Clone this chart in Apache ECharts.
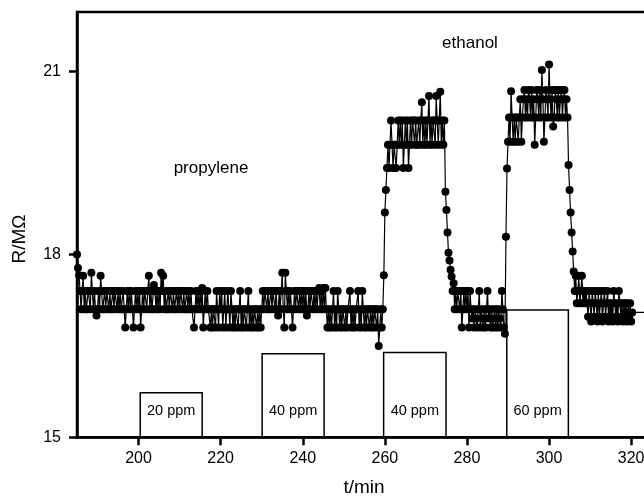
<!DOCTYPE html>
<html>
<head>
<meta charset="utf-8">
<script src="https://cdn.jsdelivr.net/npm/echarts@6/dist/echarts.min.js"></script>
<style>html,body{margin:0;padding:0;background:#fff;}#chart{width:644px;height:500px;}</style>
</head>
<body>
<div id="chart"></div>
<script>
// ---- data ----
const sampleStart = 185;      // t/min of first sample
const sampleStep = 0.25;      // min between samples
const resistance = [
 18.0,17.78,17.66,17.4,17.1,17.4,17.65,17.1,17.4,17.1,17.1,17.4,17.4,17.1,17.7,17.4,17.1,17.4,17.1,17.0,
 17.1,17.4,17.1,17.65,17.4,17.1,17.1,17.4,17.1,17.4,17.4,17.1,17.4,17.1,17.1,17.4,17.1,17.4,17.4,17.1,
 17.4,17.1,17.4,17.1,17.1,17.4,17.1,16.8,17.1,17.4,17.1,17.4,17.1,17.4,17.1,16.8,17.1,17.4,17.1,17.4,
 17.1,17.4,16.8,17.1,17.4,17.1,17.4,17.4,17.1,17.4,17.65,17.1,17.4,17.1,17.1,17.5,17.4,17.1,17.4,17.1,
 17.4,17.1,17.7,17.4,17.65,17.1,17.4,17.1,17.1,17.4,17.1,17.4,17.4,17.1,17.4,17.1,17.1,17.4,17.1,17.4,
 17.1,17.4,17.4,17.1,17.4,17.1,17.1,17.4,17.1,17.4,17.1,17.4,17.1,17.1,16.8,17.1,17.4,17.1,17.4,17.1,
 17.4,17.1,17.45,16.8,17.1,17.4,17.1,17.4,17.1,17.1,16.8,17.1,16.8,17.1,17.1,16.8,17.4,17.1,16.8,17.4,
 17.1,17.4,16.8,17.1,17.4,16.8,17.1,17.4,17.1,16.8,17.4,17.1,16.8,17.1,16.8,17.1,17.1,16.8,17.1,17.4,
 16.8,17.1,16.8,17.1,17.1,16.8,17.1,17.4,16.8,17.1,16.8,17.1,16.8,17.1,17.1,16.8,17.1,16.8,17.1,16.8,
 17.1,17.4,17.1,17.4,17.4,17.1,17.4,17.1,17.1,17.4,17.1,17.4,17.4,17.1,17.4,17.1,17.0,17.4,17.1,17.4,
 17.7,17.1,16.8,17.7,17.4,17.1,17.4,17.1,17.4,17.1,16.8,17.1,17.4,17.1,17.4,17.4,17.1,17.4,17.1,17.4,
 17.1,17.4,17.1,17.4,17.0,17.1,17.4,17.1,17.4,17.4,17.1,17.4,17.1,17.4,17.1,17.4,17.45,17.1,17.4,17.1,
 17.45,17.1,17.45,17.1,16.8,17.1,16.8,17.1,16.8,17.1,17.4,16.8,17.1,16.8,17.4,17.1,16.8,17.1,16.8,17.1,
 17.1,16.8,17.1,16.8,17.1,17.1,17.4,16.8,17.1,16.8,17.1,16.8,17.1,17.1,17.4,16.8,17.1,16.8,17.4,17.1,
 16.8,17.1,16.8,17.1,17.1,16.8,17.1,16.8,17.1,16.8,17.1,17.1,16.8,17.1,16.5,16.8,17.1,16.8,17.1,17.66,
 18.69,19.06,19.42,19.8,19.42,19.8,20.2,19.8,19.42,19.8,19.8,19.42,19.8,20.2,19.8,20.2,19.8,20.2,19.42,19.8,
 20.2,19.8,20.2,19.42,19.8,20.2,19.8,20.2,20.2,19.8,20.2,19.8,19.8,20.2,19.8,20.2,20.5,19.8,20.2,19.8,
 20.2,19.8,20.2,20.6,19.8,20.2,19.8,20.2,20.2,19.8,20.6,20.2,19.8,20.2,20.67,19.8,20.2,19.8,20.2,19.03,
 18.73,18.36,18.03,17.9,17.75,17.64,17.4,17.53,17.1,17.4,17.1,17.4,17.4,17.1,17.4,16.8,17.1,17.4,17.1,17.4,
 17.1,17.4,16.8,17.4,17.1,16.95,17.1,16.8,17.1,16.95,16.8,17.1,17.4,16.8,17.1,16.95,16.8,17.1,16.8,17.1,
 17.4,16.95,17.1,16.8,17.1,16.8,16.95,17.1,16.8,17.1,16.8,17.1,16.95,16.8,17.4,17.1,16.8,16.7,18.29,19.41,
 19.85,20.25,19.85,20.68,20.25,19.85,20.25,19.85,20.25,20.25,19.85,20.25,20.55,19.85,20.25,20.55,20.7,20.25,20.55,20.25,
 20.7,20.55,20.25,20.7,20.25,20.55,19.8,20.25,20.7,20.55,20.25,20.7,20.25,21.03,20.55,19.85,20.25,20.7,20.55,20.25,
 21.12,20.55,20.25,20.7,20.1,20.25,20.7,20.55,20.25,20.7,20.25,20.55,20.7,20.25,20.55,20.7,20.25,20.55,20.25,19.47,
 19.06,18.69,18.36,18.05,17.72,17.4,17.65,17.2,17.4,17.65,17.2,17.4,17.65,17.2,17.4,17.2,17.4,17.2,16.98,17.4,
 17.2,16.9,17.4,17.2,16.98,17.4,17.2,16.9,17.4,16.98,17.2,17.4,16.9,17.2,17.4,16.98,17.2,17.4,16.9,17.2,
 16.98,17.2,16.9,17.4,17.2,16.98,17.2,16.9,17.4,17.2,16.98,17.2,16.9,17.2,16.98,17.2,16.9,17.2,16.98,17.2,
 16.9,17.05
];
const tailTime = 325;         // next sample, beyond the visible edge
const tailValue = 17.05;

const xTicks = [200, 220, 240, 260, 280, 300, 320];
const yTicks = [15, 18, 21];

const boxLabels = ['20 ppm', '40 ppm', '40 ppm', '60 ppm'];
const boxStart  = [200.4, 230.1, 259.7, 289.7];
const boxEnd    = [215.5, 245.2, 274.9, 304.7];
const boxTop    = [15.73, 16.37, 16.39, 17.09];

const gasLabels = ['propylene', 'ethanol'];
// ---------------------------------------

const FONT = '"Liberation Sans", Arial, Helvetica, sans-serif';

const lineData = resistance.map((v, i) => [sampleStart + i * sampleStep, v]);
lineData.push([tailTime, tailValue]);

const boxData = boxStart.map((s, i) => [s, boxEnd[i], boxTop[i], 15]);

const chart = echarts.init(document.getElementById('chart'), null, {renderer: 'canvas'});

chart.setOption({
  animation: false,
  backgroundColor: '#fff',
  grid: {
    left: 77, width: 587, top: 12, height: 425.3,
    outerBoundsMode: 'none',
    containLabel: false,
    show: true, borderColor: '#000', borderWidth: 2.5, backgroundColor: 'transparent'
  },
  xAxis: {
    type: 'value', min: 185, max: 328,
    axisLine: {show: true, onZero: false, lineStyle: {color: '#000', width: 2.5}},
    axisTick: {show: true, inside: false, length: 8, customValues: xTicks, lineStyle: {color: '#000', width: 2.5}},
    axisLabel: {customValues: xTicks, margin: 13, fontSize: 16, color: '#000', fontFamily: FONT},
    splitLine: {show: false}
  },
  yAxis: {
    type: 'value', min: 15, max: 21.98,
    axisLine: {show: true, onZero: false, lineStyle: {color: '#000', width: 2.5}},
    axisTick: {show: true, inside: false, length: 8, customValues: yTicks, lineStyle: {color: '#000', width: 2.5}},
    axisLabel: {customValues: yTicks, margin: 16, fontSize: 16, color: '#000', fontFamily: FONT},
    splitLine: {show: false}
  },
  graphic: [
    {type: 'text', x: 20, y: 239, rotation: Math.PI / 2,
     style: {text: 'R/MΩ', fill: '#000', font: '19px ' + FONT, textAlign: 'center', textVerticalAlign: 'middle', align: 'center', verticalAlign: 'middle'}},
    {type: 'text', x: 364, y: 488,
     style: {text: 't/min', fill: '#000', font: '19px ' + FONT, textAlign: 'center', textVerticalAlign: 'middle', align: 'center', verticalAlign: 'middle'}},
    {type: 'text', x: 211, y: 168,
     style: {text: gasLabels[0], fill: '#000', font: '17px ' + FONT, textAlign: 'center', textVerticalAlign: 'middle', align: 'center', verticalAlign: 'middle'}},
    {type: 'text', x: 470, y: 43,
     style: {text: gasLabels[1], fill: '#000', font: '17px ' + FONT, textAlign: 'center', textVerticalAlign: 'middle', align: 'center', verticalAlign: 'middle'}}
  ],
  series: [
    {
      type: 'custom',
      z: 2,
      data: boxData,
      renderItem: function (params, api) {
        const i = params.dataIndex;
        const p0 = api.coord([api.value(0), api.value(3)]);
        const p1 = api.coord([api.value(1), api.value(2)]);
        return {
          type: 'group',
          children: [
            {type: 'rect', shape: {x: p0[0], y: p1[1], width: p1[0] - p0[0], height: p0[1] - p1[1]},
             style: {fill: 'none', stroke: '#000', lineWidth: 1.5}},
            {type: 'text', x: (p0[0] + p1[0]) / 2, y: p0[1] - 26,
             style: {text: boxLabels[i], fill: '#000', font: '14.5px ' + FONT,
                     textAlign: 'center', textVerticalAlign: 'middle', align: 'center', verticalAlign: 'middle'}}
          ]
        };
      }
    },
    {
      type: 'line',
      z: 3,
      data: lineData,
      symbol: 'circle',
      symbolSize: 8,
      showSymbol: true,
      showAllSymbol: true,
      itemStyle: {color: '#000', borderWidth: 0},
      lineStyle: {color: '#000', width: 1.2},
      emphasis: {disabled: true}
    }
  ]
});
</script>
</body>
</html>
